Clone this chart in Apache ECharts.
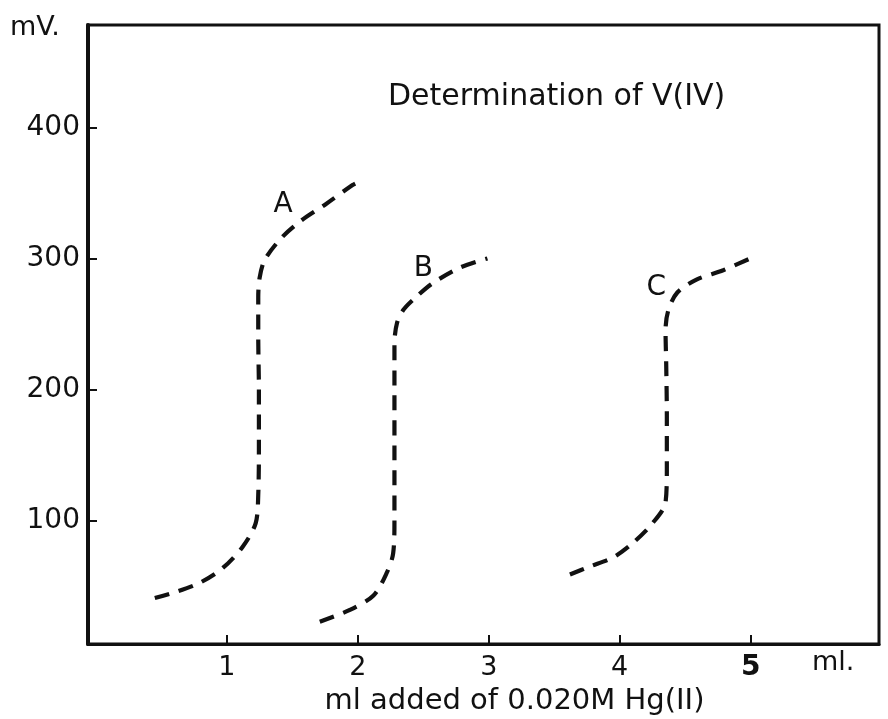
<!DOCTYPE html>
<html>
<head>
<meta charset="utf-8">
<script src="https://cdn.jsdelivr.net/npm/echarts@6/dist/echarts.min.js"></script>
<style>
html,body{margin:0;padding:0;background:#fff;}
#chart{width:888px;height:719px;}
</style>
</head>
<body>
<div id="chart"></div>
<script>
// Data (x: ml added, y: mV)
const curveA = [[0.45,41],[0.62,46],[0.80,53],[0.97,64],[1.12,80],[1.22,98],[1.24,120],[1.245,160],[1.245,200],[1.24,240],[1.24,270],[1.25,285],[1.29,299],[1.42,316],[1.57,329],[1.75,341],[1.96,356],[2.00,358]];
const curveB = [[1.71,23],[1.94,32],[2.12,43],[2.22,60],[2.27,75],[2.28,100],[2.28,150],[2.28,200],[2.28,235],[2.30,251],[2.35,261],[2.45,271],[2.57,281],[2.78,293],[2.99,300]];
const curveC = [[3.62,59],[3.77,65],[3.95,72],[4.10,83],[4.25,98],[4.35,114],[4.36,140],[4.36,180],[4.355,220],[4.35,245],[4.37,260],[4.44,274],[4.59,284],[4.79,291],[5.02,301]];
const curveLabels = [[1.43,341,'A'],[2.50,292,'B'],[4.28,278,'C']];
const xTicks = [1,2,3,4,5];
const yTicks = [100,200,300,400];
const titleText = 'Determination of V(IV)';
const xName = 'ml added of 0.020M Hg(II)';

const FONT = 'DejaVu Sans';
const INK = '#111';
const chart = echarts.init(document.getElementById('chart'), null, {renderer:'canvas'});
const lineStyle = {color:INK, width:4.2, type:[15,10], cap:'butt'};
function curve(name, data){
  return {name, type:'line', data, smooth:0.3, showSymbol:false, symbol:'none',
    lineStyle, silent:true, animation:false};
}
chart.setOption({
  backgroundColor:'#fff',
  animation:false,
  title:{text:titleText, left:383, top:77,
    textStyle:{fontFamily:FONT, fontWeight:'normal', fontSize:30, color:INK}},
  grid:{left:88, right:9, top:25, bottom:75, show:true, borderColor:INK, borderWidth:3,
    containLabel:false, outerBoundsMode:'none'},
  xAxis:{type:'value', min:-0.06, max:5.98,
    name:xName, nameLocation:'middle', nameGap:37,
    nameTextStyle:{fontFamily:FONT, fontSize:29, color:INK, padding:[0,0,0,62]},
    axisLine:{show:true, onZero:false, lineStyle:{color:INK, width:3}},
    axisTick:{show:true, inside:true, length:9, customValues:xTicks, lineStyle:{color:INK, width:2}},
    axisLabel:{customValues:xTicks, margin:10, fontFamily:FONT, fontSize:27, color:INK,
      formatter:v => v===5 ? '{b|5}' : String(v),
      rich:{b:{fontFamily:FONT, fontSize:28, fontWeight:'bold', color:INK}}},
    splitLine:{show:false}},
  yAxis:{type:'value', min:6, max:478,
    axisLine:{show:true, onZero:false, lineStyle:{color:INK, width:4}},
    axisTick:{show:true, inside:true, length:9, customValues:yTicks, lineStyle:{color:INK, width:2}},
    axisLabel:{customValues:yTicks, margin:8, fontFamily:FONT, fontSize:28, color:INK,
      formatter:v => String(v)},
    splitLine:{show:false}},
  graphic:[
    {type:'text', left:10, top:14, style:{text:'mV.', fontFamily:FONT, fontSize:27, fill:INK}},
    {type:'text', left:812, top:649, style:{text:'ml.', fontFamily:FONT, fontSize:27, fill:INK}}
  ],
  series:[
    curve('A', curveA), curve('B', curveB), curve('C', curveC),
    {type:'scatter', data:curveLabels, symbolSize:0, silent:true,
      label:{show:true, position:'inside', formatter:p => p.data[2],
        fontFamily:FONT, fontSize:28, color:INK, opacity:1}}
  ]
});
</script>
</body>
</html>
